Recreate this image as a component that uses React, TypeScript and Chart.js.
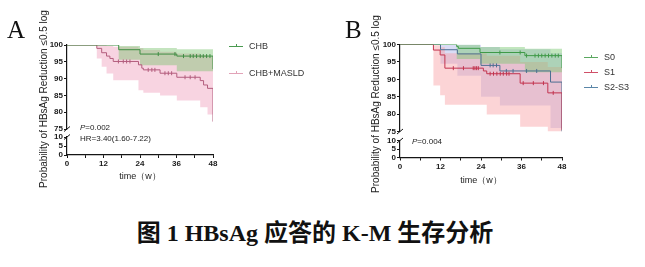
import React, { useEffect, useRef } from 'react';
import { Chart, registerables } from 'chart.js';

Chart.register(...registerables);

const FONT = '"Liberation Sans", Arial, sans-serif';
Chart.defaults.font.family = FONT;

// ---------- axis ticks ----------
const xTickValues = [0, 6, 12, 18, 24, 30, 36, 42, 48];
const xLabelled = [0, 12, 24, 36, 48];
const upperTicks = [75, 80, 85, 90, 95, 100];
const lowerTicks = [0, 5, 10];
const xTitle = 'time（w）';
const yTitle = 'Probability of HBsAg Reduction ≤0.5 log';
const caption = '图 1 HBsAg 应答的 K-M 生存分析';

// ---------- Panel A ----------
const chbName = 'CHB';
const chbTimes = [0, 17, 24, 36.1, 48];
const chbSurv = [100, 98.6, 97.3, 96.7, 92.8];
const chbCensor = [30, 35.5, 38.3, 40.5, 41.5, 42.6, 43.8, 44.8, 45.9, 47];
const chbBandTimes = [0, 17, 24, 36.1, 48];
const chbUpper = [100, 99.7, 99.1, 98.7, 98.7];
const chbLower = [100, 95.6, 94.0, 92.2, 92.2];

const masldName = 'CHB+MASLD';
const masldTimes = [0, 9.8, 11.4, 13, 14.1, 15.2, 23.5, 24.6, 25.1, 30.6, 36.1, 43.8, 44.9, 46.2, 48];
const masldSurv = [100, 99, 97.7, 96.7, 96, 95.1, 94.1, 93.1, 92.6, 91.6, 90.4, 89.4, 88.1, 87.1, 77.2];
const masldCensor = [16.9, 18.5, 19.6, 20.7, 26.7, 27.9, 28.9, 32.2, 33.3, 34.4, 38.8, 40.5, 42.1];
const masldBandTimes = [0, 9.8, 11.4, 13, 15.2, 23.5, 25.1, 30.6, 36.1, 43.8, 46.2, 48];
const masldUpper = [100, 100, 100, 99.8, 99.5, 99, 98.5, 98, 97.5, 97, 96.5, 96.5];
const masldLower = [100, 96, 93.5, 91.5, 89.5, 86.5, 85.8, 85, 83.5, 81.5, 79.3, 79.3];

const pValueA = '0.002';
const hrTextA = 'HR=3.40(1.60-7.22)';

// ---------- Panel B ----------
const s0Name = 'S0';
const s0Times = [0, 16.8, 17.3, 23.7, 37, 48];
const s0Surv = [100, 99.4, 98.9, 97.7, 96.8, 93.2];
const s0Censor = [29.6, 35.6, 37.5, 40, 41, 42, 43, 44, 45, 46, 46.9];
const s0BandTimes = [0, 16.8, 23.7, 37, 48];
const s0Upper = [100, 100, 99.3, 98.8, 98.8];
const s0Lower = [100, 95.8, 94.5, 92, 92];

const s1Name = 'S1';
const s1Times = [0, 9.9, 11.9, 13.3, 24.7, 25.7, 35.6, 43.8, 48];
const s1Surv = [100, 98.4, 97, 93.2, 92.4, 91.6, 88.9, 86.1, 75.5];
const s1Censor = [15.8, 18.8, 21.7, 22.2, 22.7, 23.2, 26.7, 27.7, 28.7, 29.7, 30.6, 31.6, 32.3, 36.5, 39.5, 42.5, 45.4];
const s1BandTimes = [0, 9.9, 11.9, 13.3, 25.7, 35.6, 43.8, 48];
const s1Upper = [100, 99.8, 99.2, 97.5, 96.8, 95, 93.5, 93.5];
const s1Lower = [100, 88.2, 85.4, 82.7, 79.9, 76.4, 75, 75];

const s23Name = 'S2-S3';
const s23Times = [0, 12, 17, 24, 29.6, 44.6, 48];
const s23Surv = [100, 98.5, 97.3, 94, 92.4, 89.2, 75];
const s23Censor = [26.7, 27.6, 28.6, 31.5, 33.5, 37.5, 40.5];
const s23BandTimes = [0, 12, 17, 24, 29.6, 44.6, 48];
const s23Upper = [100, 100, 100, 99.3, 98.6, 97.5, 97.5];
const s23Lower = [100, 94.5, 91, 85, 82.5, 76, 76];

const pValueB = '0.004';

type Group = {
  name: string;
  color: string;
  band: string;
  legend: string;
  times: number[];
  surv: number[];
  censor: number[];
  bandTimes: number[];
  upper: number[];
  lower: number[];
};

const groupsA: Group[] = [
  { name: chbName, color: '#3f8d43', band: 'rgba(125,196,112,0.45)', legend: '#4a9a50', times: chbTimes, surv: chbSurv, censor: chbCensor, bandTimes: chbBandTimes, upper: chbUpper, lower: chbLower },
  { name: masldName, color: '#b35d7d', band: 'rgba(240,165,192,0.48)', legend: '#e2a3b8', times: masldTimes, surv: masldSurv, censor: masldCensor, bandTimes: masldBandTimes, upper: masldUpper, lower: masldLower },
];

const groupsB: Group[] = [
  { name: s0Name, color: '#3f9a48', band: 'rgba(120,200,110,0.45)', legend: '#5aa860', times: s0Times, surv: s0Surv, censor: s0Censor, bandTimes: s0BandTimes, upper: s0Upper, lower: s0Lower },
  { name: s1Name, color: '#c2344f', band: 'rgba(248,160,165,0.45)', legend: '#d05068', times: s1Times, surv: s1Surv, censor: s1Censor, bandTimes: s1BandTimes, upper: s1Upper, lower: s1Lower },
  { name: s23Name, color: '#4d6f92', band: 'rgba(150,155,225,0.35)', legend: '#5a86a8', times: s23Times, surv: s23Surv, censor: s23Censor, bandTimes: s23BandTimes, upper: s23Upper, lower: s23Lower },
];

function stepAt(times: number[], vals: number[], t: number) {
  let v = vals[0];
  for (let i = 0; i < times.length; i++) if (times[i] <= t) v = vals[i];
  return v;
}
const pts = (times: number[], vals: number[]) => times.map((t, i) => ({ x: t, y: vals[i] }));

function buildDatasets(groups: Group[]) {
  const ds: any[] = [];
  groups.forEach((g) => {
    ds.push({
      type: 'line', label: g.name, data: pts(g.times, g.surv), stepped: true,
      borderColor: g.color, borderWidth: 1, pointRadius: 0, fill: false, order: 1, yAxisID: 'y',
    });
    ds.push({
      type: 'line', label: g.name + ' censored',
      data: g.censor.map((t) => ({ x: t, y: stepAt(g.times, g.surv, t) })),
      showLine: false, pointStyle: 'line', rotation: 90, pointRadius: 2, borderWidth: 1,
      borderColor: g.color, backgroundColor: g.color, fill: false, order: 0, yAxisID: 'y',
    });
  });
  groups.forEach((g) => {
    ds.push({
      type: 'line', label: g.name + ' CI upper', data: pts(g.bandTimes, g.upper), stepped: true,
      borderColor: 'transparent', borderWidth: 0, pointRadius: 0, fill: '+1', backgroundColor: g.band,
      order: 2, yAxisID: 'y',
    });
    ds.push({
      type: 'line', label: g.name + ' CI lower', data: pts(g.bandTimes, g.lower), stepped: true,
      borderColor: 'transparent', borderWidth: 0, pointRadius: 0, fill: false, order: 2, yAxisID: 'y',
    });
  });
  return ds;
}

type Geo = {
  x: number; w: number; h: number; left: number; right: number; top: number;
  highPx: number; gapPx: number; lowPx: number; xTitleY: number; yTitleOffset: number; yTitleShift: number;
};

const geoA: Geo = { x: 0, w: 330, h: 200, left: 67, right: 213, top: 45, highPx: 84, gapPx: 8, lowPx: 18, xTitleY: 177, yTitleOffset: 22.5, yTitleShift: -1 };
const geoB: Geo = { x: 330, w: 315, h: 200, left: 70, right: 232, top: 44.5, highPx: 87, gapPx: 9, lowPx: 17, xTitleY: 180.5, yTitleOffset: 23.3, yTitleShift: 3 };

const AXIS = '#151515';
const TICK_TXT = '#1a1a1a';
const Y_W = 24;

const yTitlePlugin = {
  id: 'yTitleDraw',
  afterDraw(chart: any, _args: any, opts: any) {
    const { ctx, chartArea } = chart;
    ctx.save();
    ctx.translate(chartArea.left - opts.offset, (chartArea.top + chartArea.bottom) / 2 + opts.shift);
    ctx.rotate(-Math.PI / 2);
    ctx.font = '10px ' + FONT;
    ctx.fillStyle = '#222';
    ctx.textAlign = 'center';
    ctx.textBaseline = 'middle';
    ctx.fillText(opts.text, 0, 0);
    ctx.restore();
  },
};

const breakPlugin = {
  id: 'axisBreak',
  afterDraw(chart: any) {
    const { ctx, chartArea } = chart;
    const hi = chart.scales.y;
    const lo = chart.scales.yLow;
    const x = chartArea.left;
    ctx.save();
    ctx.strokeStyle = AXIS;
    ctx.lineWidth = 1;
    [hi.bottom, lo.top].forEach((yy: number) => {
      ctx.beginPath();
      ctx.moveTo(x - 3, yy + 2.5);
      ctx.lineTo(x + 3, yy - 2.5);
      ctx.stroke();
    });
    ctx.restore();
  },
};

function yScale(min: number, max: number, ticks: number[], weight: number) {
  return {
    type: 'linear', position: 'left', stack: 'ystack', stackWeight: weight, min, max,
    afterBuildTicks: (s: any) => { s.ticks = ticks.map((v) => ({ value: v })); },
    ticks: { font: { size: 8, weight: 'bold' }, color: TICK_TXT, padding: 1, autoSkip: false },
    grid: { drawOnChartArea: false, drawTicks: true, tickLength: 3, color: AXIS },
    border: { color: AXIS, width: 1.2 },
    afterFit: (s: any) => { s.width = Y_W; },
  };
}

function KMPanel({ groups, geo }: { groups: Group[]; geo: Geo }) {
  const ref = useRef<HTMLCanvasElement>(null);
  useEffect(() => {
    const canvas = ref.current;
    if (!canvas) return;
    const bottom = geo.top + geo.highPx + geo.gapPx + geo.lowPx;
    const xBottom = geo.xTitleY + 5.4 + 2;
    const xHeight = xBottom - bottom;
    const chart = new Chart(canvas, {
      type: 'line',
      data: { datasets: buildDatasets(groups) },
      options: {
        responsive: false,
        animation: false,
        events: [],
        layout: {
          padding: { left: geo.left - Y_W, right: geo.w - geo.right, top: geo.top, bottom: geo.h - xBottom },
        },
        plugins: {
          legend: { display: false },
          tooltip: { enabled: false },
          yTitleDraw: { text: yTitle, offset: geo.yTitleOffset, shift: geo.yTitleShift },
        } as any,
        scales: {
          x: {
            type: 'linear', min: 0, max: 48,
            afterBuildTicks: (s: any) => { s.ticks = xTickValues.map((v) => ({ value: v })); },
            ticks: {
              autoSkip: false, maxRotation: 0, padding: 1, color: TICK_TXT,
              font: { size: 8, weight: 'bold' },
              callback: (v: any) => (xLabelled.includes(Number(v)) ? String(v) : ''),
            },
            grid: { drawOnChartArea: false, drawTicks: true, tickLength: 3, color: AXIS },
            border: { color: AXIS, width: 1.2 },
            title: { display: true, text: xTitle, font: { size: 9 }, color: '#222', padding: { top: 2, bottom: 2 } },
            afterFit: (s: any) => { s.height = xHeight; },
          },
          yLow: yScale(0, 10, lowerTicks, geo.lowPx),
          yGap: {
            type: 'linear', position: 'left', stack: 'ystack', stackWeight: geo.gapPx, min: 0, max: 1,
            ticks: { display: false }, grid: { display: false }, border: { display: false },
            afterFit: (s: any) => { s.width = Y_W; },
          },
          y: yScale(75, 100, upperTicks, geo.highPx),
        } as any,
      },
      plugins: [yTitlePlugin, breakPlugin],
    } as any);
    return () => chart.destroy();
  }, []);
  return (
    <canvas
      ref={ref}
      width={geo.w}
      height={geo.h}
      style={{ position: 'absolute', left: geo.x, top: 0, width: geo.w, height: geo.h }}
    />
  );
}

function LegendItem({ g, x, cy }: { g: Group; x: number; cy: number }) {
  return (
    <div style={{ position: 'absolute', left: x, top: cy - 6, height: 12, display: 'flex', alignItems: 'center' }}>
      <div style={{ position: 'relative', width: 14, height: 12, marginRight: 6 }}>
        <div style={{ position: 'absolute', left: 0, top: 6, width: 14, height: 1, background: g.legend }} />
        <div style={{ position: 'absolute', left: 7, top: 4, width: 1, height: 3, background: g.legend }} />
      </div>
      <span style={{ font: '9px ' + FONT, color: '#333', lineHeight: '12px' }}>{g.name}</span>
    </div>
  );
}

export default function App() {
  const txt = (extra: any) => ({ position: 'absolute' as const, whiteSpace: 'nowrap' as const, ...extra });
  return (
    <div style={{ position: 'absolute', left: 0, top: 0, width: 645, height: 267, background: '#fff', overflow: 'hidden' }}>
      <KMPanel groups={groupsA} geo={geoA} />
      <KMPanel groups={groupsB} geo={geoB} />

      <div style={txt({ left: 7, top: 17, font: '25px "Liberation Serif", serif', lineHeight: '25px', color: '#111' })}>A</div>
      <div style={txt({ left: 345, top: 17, font: '25px "Liberation Serif", serif', lineHeight: '25px', color: '#111' })}>B</div>

      <LegendItem g={groupsA[0]} x={229} cy={46} />
      <LegendItem g={groupsA[1]} x={229} cy={72.5} />
      <LegendItem g={groupsB[0]} x={584} cy={57} />
      <LegendItem g={groupsB[1]} x={584} cy={71.5} />
      <LegendItem g={groupsB[2]} x={584} cy={86.5} />

      <div style={txt({ left: 80, top: 123, font: '8px ' + FONT, lineHeight: '9px', color: '#222' })}>
        <i>P</i>={pValueA}
      </div>
      <div style={txt({ left: 80, top: 134, font: '8px ' + FONT, lineHeight: '9px', color: '#222' })}>{hrTextA}</div>
      <div style={txt({ left: 412, top: 136.5, font: '8px ' + FONT, lineHeight: '9px', color: '#222' })}>
        <i>P</i>={pValueB}
      </div>

      <div style={txt({ left: 0, width: 630, top: 220, textAlign: 'center', font: 'bold 24px "Liberation Serif", "Noto Sans CJK SC", serif', lineHeight: '26px', color: '#111' })}>
        {caption}
      </div>
    </div>
  );
}
